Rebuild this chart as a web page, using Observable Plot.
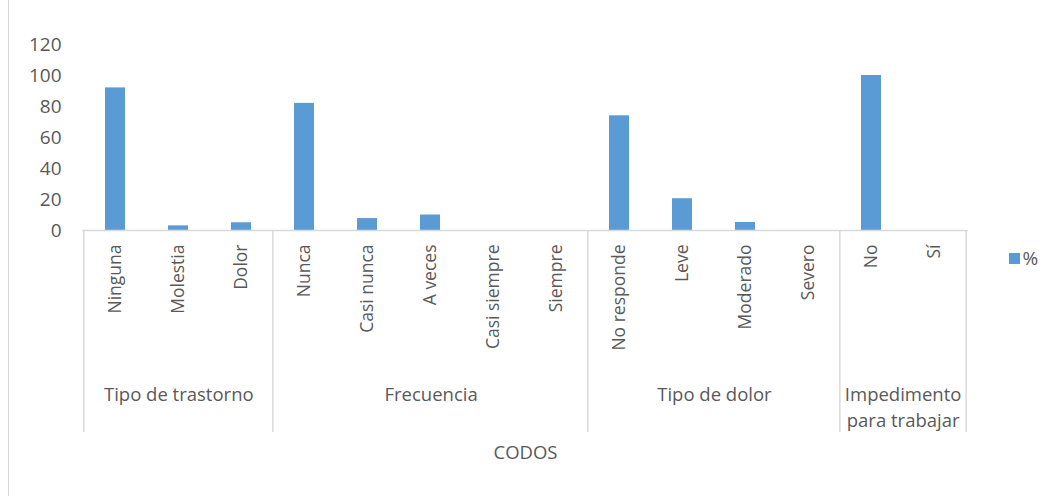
<!DOCTYPE html>
<html>
<head>
<meta charset="utf-8">
<script src="https://cdn.jsdelivr.net/npm/d3@7"></script>
<script src="https://cdn.jsdelivr.net/npm/@observablehq/plot@0.6"></script>
<style>
  html, body { margin: 0; padding: 0; background: #fff; }
  #wrap { position: relative; width: 1060px; height: 496px; overflow: hidden; }
  #wrap::before { content: ""; position: absolute; left: 8px; top: 0; bottom: 0; width: 1px; background: #d9d9d9; }
  svg text { font-family: "Open Sans", "Noto Sans", sans-serif; }
</style>
</head>
<body>
<div id="wrap"></div>
<script>
const categories = ["Ninguna", "Molestia", "Dolor", "Nunca", "Casi nunca", "A veces", "Casi siempre", "Siempre", "No responde", "Leve", "Moderado", "Severo", "No", "Sí"];
const values = [92, 3, 5, 82, 7.7, 10, 0, 0, 74, 20.5, 5.2, 0, 100, 0];
const groupLabels = ["Tipo de trastorno", "Frecuencia", "Tipo de dolor", "Impedimento\npara trabajar"];
const groupCounts = [3, 5, 4, 2];
const axisTitle = "CODOS";
const seriesName = "%";
const yTicks = [0, 20, 40, 60, 80, 100, 120];

const data = categories.map((c, i) => ({category: c, value: values[i]}));

const W = 1060, H = 496;
const mL = 82, mR = 92, mT = 44, mB = 266;
const step = (W - mL - mR) / categories.length;
const plotH = H - mT - mB;
const grey = "#595959";
const lineGrey = "#d9d9d9";
const blue = "#5B9BD5";

const groups = [];
let idx = 0;
groupLabels.forEach((g, i) => {
  groups.push({label: g, first: categories[idx], last: categories[idx + groupCounts[i] - 1], count: groupCounts[i]});
  idx += groupCounts[i];
});

const groupTextMarks = groups.map(g => Plot.text([g], {
  x: d => d.first,
  text: d => d.label,
  frameAnchor: "bottom",
  lineAnchor: "middle",
  dx: (g.count - 1) * step / 2,
  dy: g.label.includes("\n") ? 175 : 162,
  fill: grey,
  fontSize: 18.5,
  lineHeight: 1.45,
  textAnchor: "middle"
}));

const chart = Plot.plot({
  width: W,
  height: H,
  marginLeft: mL,
  marginRight: mR,
  marginTop: mT,
  marginBottom: mB,
  style: {background: "transparent", color: grey, overflow: "visible"},
  x: {domain: categories, paddingInner: 0.68, paddingOuter: 0.34, label: null},
  y: {domain: [0, 120], label: null},
  marks: [
    Plot.axisY({ticks: yTicks, tickSize: 0, tickPadding: 21, fontSize: 19, fill: grey, label: null}),
    Plot.axisX({tickSize: 0, tickRotate: -90, tickPadding: 14, fontSize: 17.5, fill: grey, label: null, style: {letterSpacing: "0.6px"}}),
    Plot.barY(data, {x: "category", y: "value", fill: blue}),
    Plot.ruleY([0], {stroke: lineGrey, strokeWidth: 1.5}),
    Plot.ruleX(groups, {x: "first", dx: -step / 2, stroke: lineGrey, strokeWidth: 1.5, insetTop: plotH, insetBottom: -202}),
    Plot.ruleX(groups.slice(-1), {x: "last", dx: step / 2, stroke: lineGrey, strokeWidth: 1.5, insetTop: plotH, insetBottom: -202}),
    ...groupTextMarks,
    Plot.text([axisTitle], {frameAnchor: "bottom", lineAnchor: "middle", dy: 223, fill: grey, fontSize: 18.5, text: d => d}),
    Plot.dot([seriesName], {frameAnchor: "bottom-right", dx: 46, dy: 28, symbol: "square", r: 6.2, fill: blue, stroke: "none"}),
    Plot.text([seriesName], {frameAnchor: "bottom-right", lineAnchor: "middle", dx: 54, dy: 28, text: d => d, textAnchor: "start", fill: grey, fontSize: 19})
  ]
});

document.getElementById("wrap").appendChild(chart);
</script>
</body>
</html>
